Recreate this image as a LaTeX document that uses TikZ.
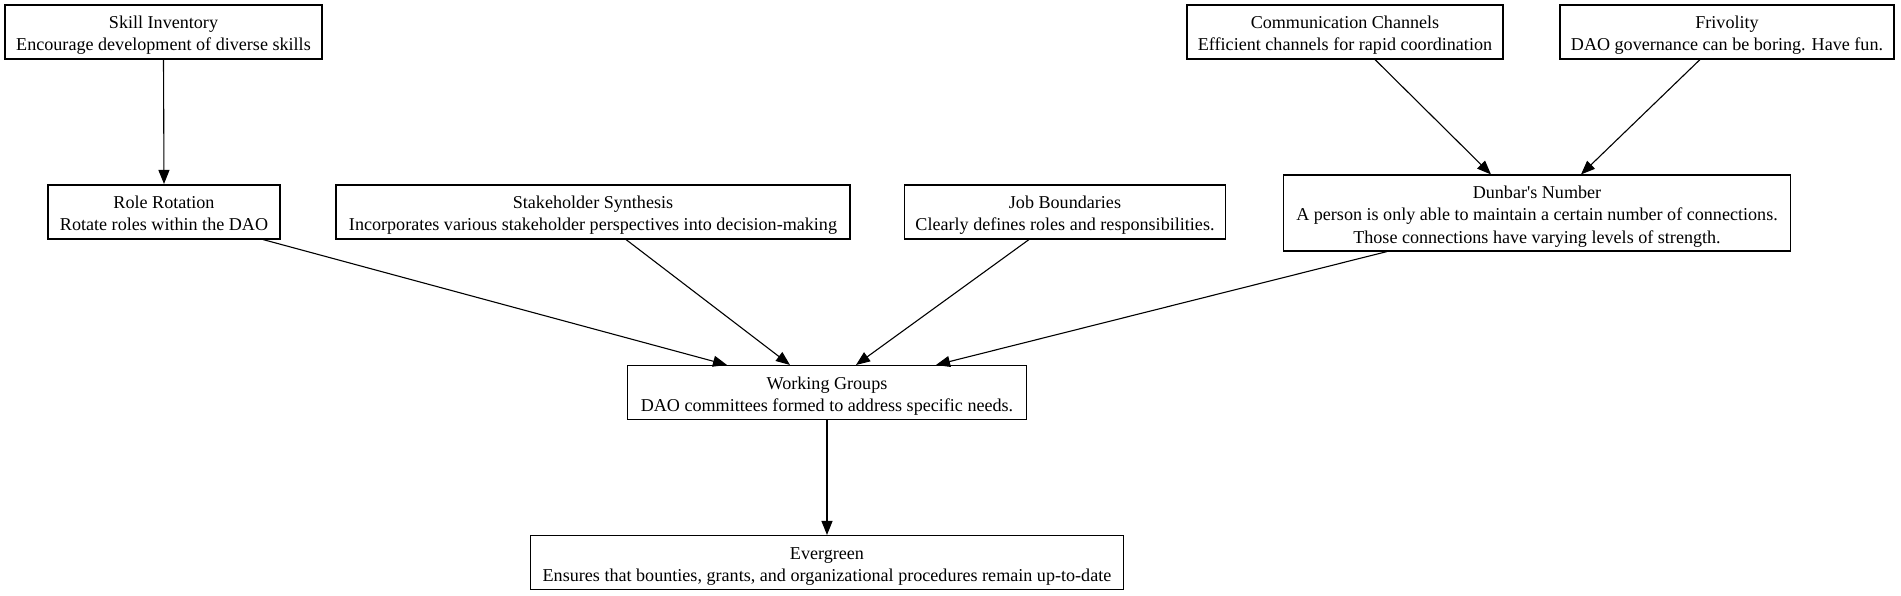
\documentclass[tikz,border=0pt]{standalone}
\usepackage{fontspec}
\setmainfont{Liberation Serif}
\usetikzlibrary{arrows.meta}
\newcommand{\boxtext}[2][-3.3pt]{\raisebox{#1}[\height][\depth]{\begin{tabular}{@{}c@{}}#2\end{tabular}}}
\begin{document}
\begin{tikzpicture}[x=1pt,y=1pt,
  box/.style={draw,line width=1.1pt,inner sep=0pt,align=center,font=\fontsize{18.1}{22.4}\selectfont},
  conn/.style={line width=1.1pt,-{Triangle[length=14pt,width=11pt]}}]
\useasboundingbox (0,0) rectangle (1901,-595);
\node[box,minimum width=317,minimum height=54] (skill) at (163.5,-32) {\boxtext{Skill Inventory\\Encourage development of diverse skills}};
\node[box,minimum width=316,minimum height=54] (comm) at (1345,-32) {\boxtext{Communication Channels\\Efficient channels for rapid coordination}};
\node[box,minimum width=334,minimum height=54] (friv) at (1727,-32) {\boxtext{Frivolity\\DAO governance can be boring. Have fun.}};
\node[box,minimum width=232,minimum height=54] (role) at (164,-212) {\boxtext{Role Rotation\\Rotate roles within the DAO}};
\node[box,minimum width=514,minimum height=54] (stake) at (593,-212) {\boxtext{Stakeholder Synthesis\\Incorporates various stakeholder perspectives into decision-making}};
\node[box,minimum width=321,minimum height=54] (job) at (1065,-212) {\boxtext{Job Boundaries\\Clearly defines roles and responsibilities.}};
\node[box,minimum width=507,minimum height=76] (dunbar) at (1537,-213) {\boxtext{Dunbar\textquotesingle s Number\\A person is only able to maintain a certain number of connections.\\Those connections have varying levels of strength.}};
\node[box,minimum width=399,minimum height=54] (wg) at (827,-392.5) {\boxtext{Working Groups\\DAO committees formed to address specific needs.}};
\node[box,minimum width=593,minimum height=54] (ever) at (827,-562.5) {\boxtext{Evergreen\\Ensures that bounties, grants, and organizational procedures remain up-to-date}};
\draw[conn] (skill.south) -- ([yshift=0.5]role.north);
\draw[conn] ([xshift=30]comm.south) -- ([xshift=-46]dunbar.north);
\draw[conn] ([xshift=-27]friv.south) -- ([xshift=44]dunbar.north);
\draw[conn] ([xshift=99]role.south) -- ([xshift=-100]wg.north);
\draw[conn] ([xshift=33]stake.south) -- ([xshift=-37]wg.north);
\draw[conn] ([xshift=-36]job.south) -- ([xshift=29]wg.north);
\draw[conn] ([xshift=-150]dunbar.south) -- ([xshift=109]wg.north);
\draw[conn] (wg.south) -- (ever.north);
\end{tikzpicture}
\end{document}
